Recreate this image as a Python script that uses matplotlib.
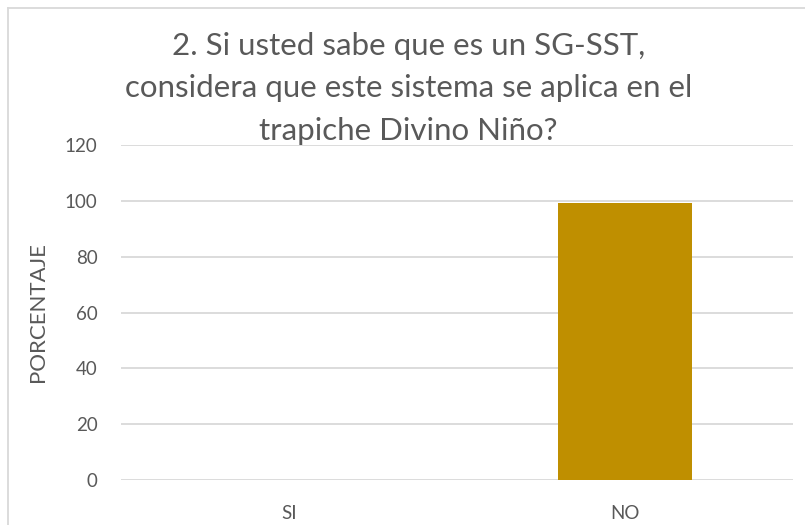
import matplotlib.pyplot as plt
from matplotlib.lines import Line2D

categorias = ["SI", "NO"]
porcentajes = [0, 99.3]
marcas_y = [0, 20, 40, 60, 80, 100, 120]
titulo = "2. Si usted sabe que es un SG-SST,\nconsidera que este sistema se aplica en el\ntrapiche Divino Niño?"

plt.rcParams['font.family'] = ['Lato', 'DejaVu Sans']
gris_texto = "#595959"
gris_linea = "#D9D9D9"

fig = plt.figure(figsize=(8.05, 5.25), dpi=100)
W, H = 805, 525
ax = fig.add_axes([121 / W, 1 - 480 / H, (793 - 121) / W, (480 - 145) / H])

ax.bar(range(len(categorias)), porcentajes, width=0.4, color="#BF8F00", zorder=3)
ax.set_xlim(-0.5, len(categorias) - 0.5)
ax.set_ylim(0, 120)
ax.set_yticks(marcas_y)
ax.set_xticks(range(len(categorias)))
ax.set_xticklabels(categorias)
ax.grid(axis="y", color=gris_linea, linewidth=1.3, zorder=0)
for s in ax.spines.values():
    s.set_visible(False)
ax.tick_params(length=0, labelsize=13.5, labelcolor=gris_texto)
ax.tick_params(axis="y", pad=17)
ax.tick_params(axis="x", pad=18)
ax.set_ylabel("PORCENTAJE", fontsize=16, color=gris_texto, labelpad=12)

fig.text(0.507, 1 - 32 / H, titulo, ha="center", va="top", fontsize=22.5,
         color=gris_texto, linespacing=1.62)

# borde del grafico (solo arriba e izquierda visibles)
fig.add_artist(Line2D([8 / W, 1], [1 - 8 / H, 1 - 8 / H], color=gris_linea, linewidth=1.3))
fig.add_artist(Line2D([8 / W, 8 / W], [0, 1 - 8 / H], color=gris_linea, linewidth=1.3))

fig.savefig("out.png", dpi=100)
